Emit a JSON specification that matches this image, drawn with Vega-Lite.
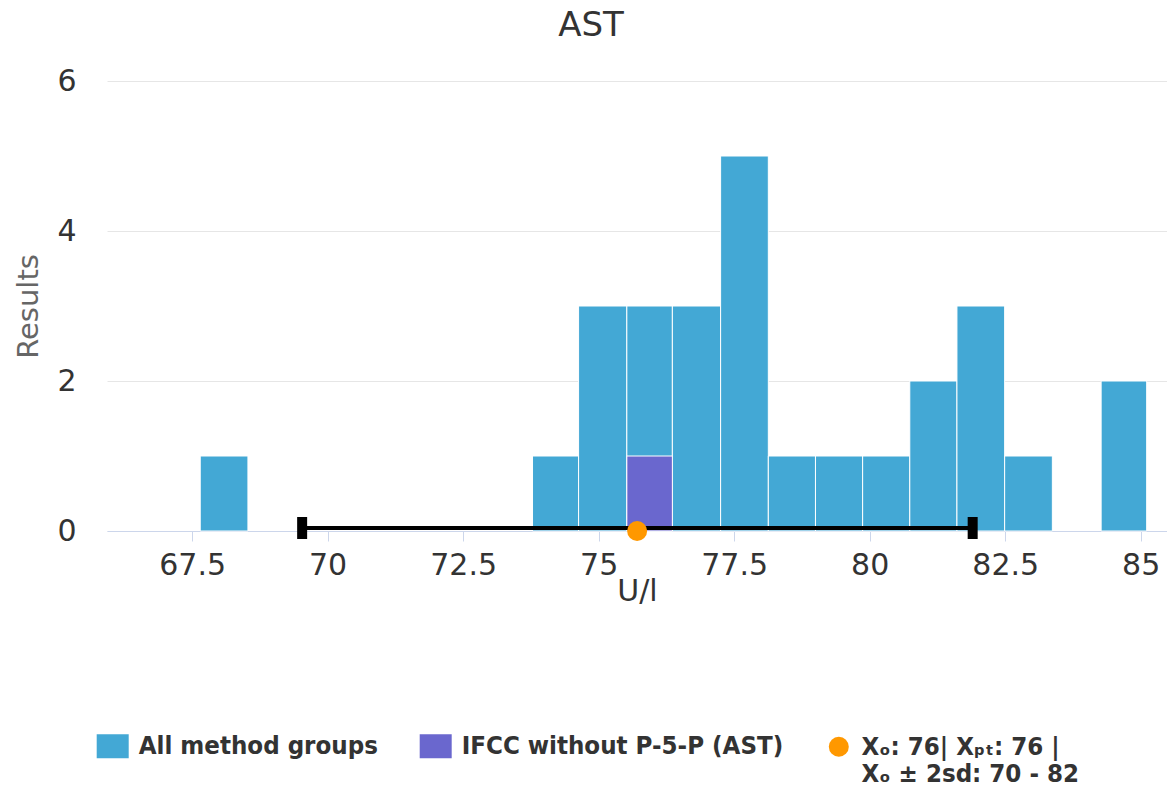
{
  "$schema": "https://vega.github.io/schema/vega-lite/v6.json",
  "autosize": {"type": "none"},
  "padding": {"left": 107, "top": 81, "right": 0, "bottom": 272},
  "width": 1060,
  "height": 450,
  "background": "white",
  "title": {
    "text": "AST",
    "font": "DejaVu Sans",
    "fontSize": 34,
    "fontWeight": "normal",
    "color": "#333333",
    "anchor": "middle",
    "frame": "bounds",
    "baseline": "alphabetic",
    "offset": -4
  },
  "datasets": {
    "bars": [
      {"start": 67.65, "end": 68.53, "count": 1, "series": "All method groups"},
      {"start": 73.78, "end": 74.63, "count": 1, "series": "All method groups"},
      {"start": 74.63, "end": 75.52, "count": 3, "series": "All method groups"},
      {"start": 75.52, "end": 76.36, "count": 3, "series": "All method groups"},
      {"start": 76.36, "end": 77.25, "count": 3, "series": "All method groups"},
      {"start": 77.25, "end": 78.13, "count": 5, "series": "All method groups"},
      {"start": 78.13, "end": 79.0, "count": 1, "series": "All method groups"},
      {"start": 79.0, "end": 79.87, "count": 1, "series": "All method groups"},
      {"start": 79.87, "end": 80.74, "count": 1, "series": "All method groups"},
      {"start": 80.74, "end": 81.61, "count": 2, "series": "All method groups"},
      {"start": 81.61, "end": 82.49, "count": 3, "series": "All method groups"},
      {"start": 82.49, "end": 83.37, "count": 1, "series": "All method groups"},
      {"start": 84.27, "end": 85.11, "count": 2, "series": "All method groups"},
      {"start": 75.52, "end": 76.36, "count": 1, "series": "IFCC without P-5-P (AST)"}
    ],
    "target": [
      {"mean": 75.71, "low": 69.53, "high": 81.9, "series": "target"}
    ]
  },
  "layer": [
    {
      "data": {"name": "bars"},
      "mark": {"type": "bar", "stroke": "white", "strokeWidth": 1, "opacity": 1},
      "encoding": {
        "x": {"field": "start", "type": "quantitative"},
        "x2": {"field": "end"},
        "y": {"field": "count", "type": "quantitative", "stack": null},
        "y2": {"datum": 0},
        "color": {
          "field": "series",
          "type": "nominal",
          "scale": {
            "domain": ["All method groups", "IFCC without P-5-P (AST)"],
            "range": ["#43a8d5", "#6a67ce"]
          },
          "legend": {
            "title": null,
            "orient": "none",
            "legendX": -10.3,
            "legendY": 649,
            "direction": "horizontal",
            "padding": 0,
            "columnPadding": 41,
            "labelOffset": 10,
            "labelLimit": 0,
            "labelFont": "DejaVu Sans Condensed",
            "labelFontWeight": "bold",
            "labelFontSize": 25.6,
            "labelColor": "#333333",
            "symbolType": "M-1,-0.75H1V0.75H-1Z",
            "symbolSize": 1024,
            "symbolStrokeWidth": 0,
            "symbolOpacity": 1
          }
        }
      }
    },
    {
      "data": {"name": "target"},
      "mark": {"type": "rule", "color": "black", "strokeWidth": 4, "yOffset": -3},
      "encoding": {
        "x": {"field": "low", "type": "quantitative"},
        "x2": {"field": "high"},
        "y": {"datum": 0, "type": "quantitative"}
      }
    },
    {
      "data": {"name": "target"},
      "mark": {"type": "tick", "orient": "vertical", "thickness": 10, "size": 22, "color": "black", "opacity": 1, "yOffset": -3},
      "encoding": {
        "x": {"field": "low", "type": "quantitative"},
        "y": {"datum": 0, "type": "quantitative"}
      }
    },
    {
      "data": {"name": "target"},
      "mark": {"type": "tick", "orient": "vertical", "thickness": 10, "size": 22, "color": "black", "opacity": 1, "yOffset": -3},
      "encoding": {
        "x": {"field": "high", "type": "quantitative"},
        "y": {"datum": 0, "type": "quantitative"}
      }
    },
    {
      "data": {"name": "target"},
      "mark": {"type": "point", "filled": true, "size": 400, "opacity": 1, "strokeWidth": 0, "color": "#ff9800"},
      "encoding": {
        "x": {"field": "mean", "type": "quantitative"},
        "y": {"datum": 0, "type": "quantitative"},
        "shape": {
          "field": "series",
          "type": "nominal",
          "scale": {"domain": ["target"], "range": ["circle"]},
          "legend": {
            "title": null,
            "orient": "none",
            "legendX": 719,
            "legendY": 653,
            "padding": 0,
            "labelOffset": 10,
            "labelLimit": 0,
            "labelFont": "DejaVu Sans Condensed",
            "labelFontWeight": "bold",
            "labelFontSize": 25.6,
            "labelColor": "#333333",
            "symbolSize": 400,
            "symbolFillColor": "#ff9800",
            "symbolStrokeWidth": 0,
            "symbolOpacity": 1,
            "labelExpr": "['Xₒ: 76| Xₚₜ: 76 |', 'Xₒ ± 2sd: 70 - 82']",
            "encode": {
              "symbols": {"update": {"fill": {"value": "#ff9800"}, "fillOpacity": {"value": 1}, "opacity": {"value": 1}, "strokeWidth": {"value": 0}}},
              "labels": {
                "enter": {"lineHeight": {"value": 32}},
                "update": {"lineHeight": {"value": 32}}
              }
            }
          }
        }
      }
    }
  ],
  "encoding": {
    "x": {
      "type": "quantitative",
      "scale": {"domain": [65.93, 85.485], "nice": false, "zero": false, "padding": 0},
      "axis": {
        "title": "U/l",
        "values": [67.5, 70, 72.5, 75, 77.5, 80, 82.5, 85],
        "labelExpr": "'' + datum.value",
        "grid": false,
        "domainColor": "#ccd6eb",
        "tickColor": "#ccd6eb",
        "tickSize": 10,
        "labelPadding": 9,
        "labelFont": "DejaVu Sans",
        "labelFontSize": 30,
        "labelColor": "#333333",
        "labelBaseline": "top",
        "titleFont": "DejaVu Sans",
        "titleFontSize": 30,
        "titleFontWeight": "normal",
        "titleColor": "#333333",
        "titleBaseline": "top",
        "titlePadding": -4
      }
    },
    "y": {
      "type": "quantitative",
      "scale": {"domain": [0, 6], "nice": false, "padding": 0},
      "axis": {
        "title": "Results",
        "values": [0, 2, 4, 6],
        "domain": false,
        "ticks": false,
        "grid": true,
        "gridColor": "#e6e6e6",
        "labelPadding": 31,
        "labelFont": "DejaVu Sans",
        "labelFontSize": 30,
        "labelColor": "#333333",
        "titleFont": "DejaVu Sans",
        "titleFontSize": 29,
        "titleFontWeight": "normal",
        "titleColor": "#666666",
        "titlePadding": 13
      }
    }
  },
  "config": {
    "view": {"stroke": null},
    "font": "DejaVu Sans"
  }
}
